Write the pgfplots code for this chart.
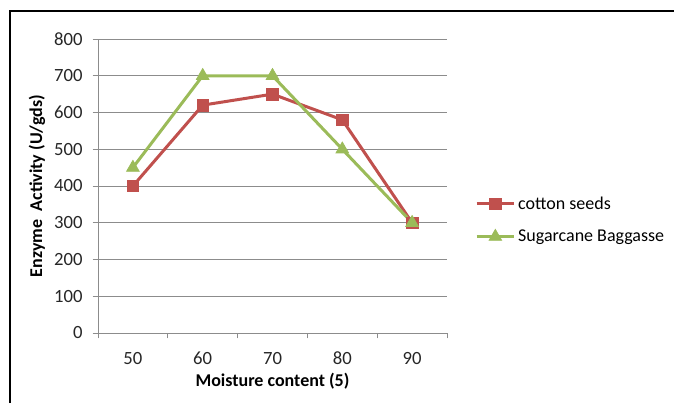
\documentclass[border=0pt]{standalone}
\usepackage{pgfplots}
\pgfplotsset{compat=1.18}
\usepackage{fontspec}
\setmainfont{Carlito}[Numbers=Lining]
\definecolor{cred}{HTML}{C0504D}
\definecolor{cgreen}{HTML}{9BBB59}
\definecolor{gridg}{HTML}{8C8C8C}
\begin{document}
\begin{tikzpicture}[x=0.75pt,y=0.75pt]
\useasboundingbox (0,0) rectangle (674,-403);
\draw[black,line width=1.5pt] (10,-403) -- (10,-11) -- (674,-11);
\begin{axis}[
  at={(73.5pt,-249.75pt)}, anchor=south west,
  scale only axis, width=261.75pt, height=220.5pt,
  xmin=-0.5, xmax=4.5, ymin=0, ymax=800,
  xtick={0,1,2,3,4}, xticklabels={50,60,70,80,90},
  minor xtick={-0.5,0.5,1.5,2.5,3.5,4.5},
  ytick={0,100,...,800},
  major x tick style={draw=none},
  tick align=outside,
  major tick length=4pt, minor tick length=4pt,
  every tick/.style={gridg, line width=0.6pt},
  axis lines*=left,
  axis line style={gridg, line width=0.6pt},
  ymajorgrids, grid style={gridg, line width=0.6pt},
  tick label style={font=\fontsize{14}{16}\selectfont, text=black!85},
  /pgf/number format/assume math mode=true,
  xticklabel style={yshift=-6pt, text height=10pt, text depth=0pt},
  yticklabel style={xshift=-4pt},
  xlabel={\textbf{Moisture content (5)}},
  ylabel={\textbf{Enzyme\ \ Activity (U/gds)}},
  label style={font=\fontsize{13.5}{16}\selectfont},
  xlabel style={yshift=0pt},
  ylabel style={yshift=0pt},
  clip=false,
  legend style={draw=none, at={(1.08,0.384)}, anchor=west, font=\fontsize{13.5}{16}\selectfont,
    row sep=10pt, inner sep=0pt, cells={anchor=west}},
  legend image code/.code={
    \draw[#1] (0pt,0pt) -- (28pt,0pt);
    \draw[#1, mark repeat=1] plot coordinates {(14pt,0pt)};
  },
]
\addplot[cred, line width=2.25pt, mark=square*, mark size=4.3pt, mark options={solid, line width=0.5pt}]
  coordinates {(0,400) (1,620) (2,650) (3,580) (4,300)};
\addlegendentry{cotton seeds}
\addplot[cgreen, line width=2.25pt, mark=triangle*, mark size=5.5pt, mark options={solid, line width=0.5pt}]
  coordinates {(0,450) (1,700) (2,700) (3,500) (4,300)};
\addlegendentry{Sugarcane Baggasse}
\end{axis}
\end{tikzpicture}
\end{document}
